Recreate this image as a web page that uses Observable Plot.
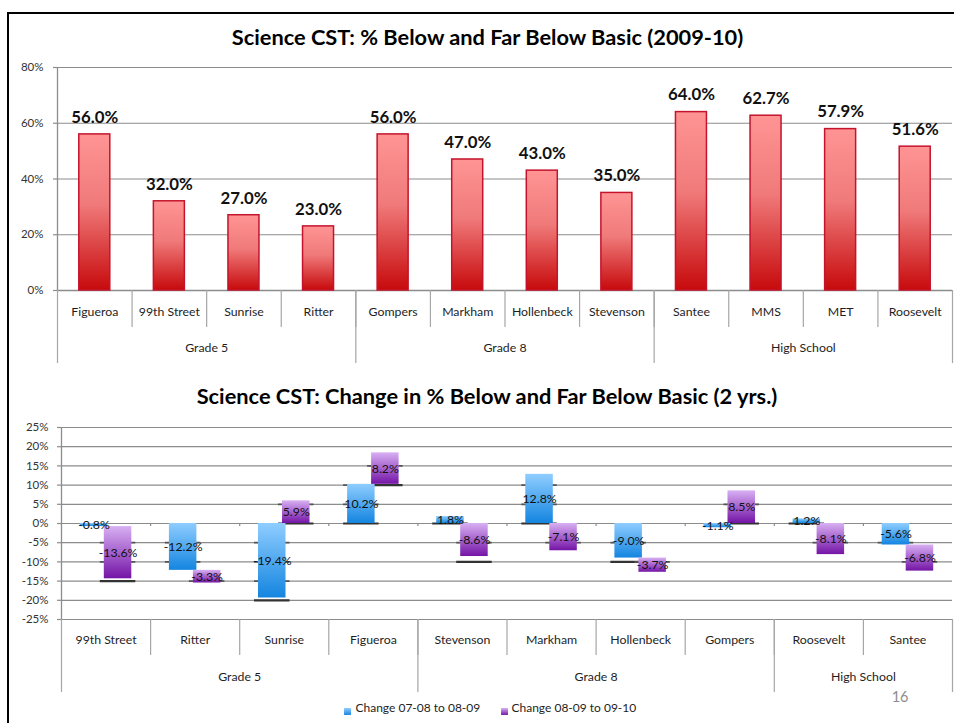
<!DOCTYPE html>
<html><head><meta charset="utf-8">
<script src="https://cdn.jsdelivr.net/npm/d3@7"></script>
<script src="https://cdn.jsdelivr.net/npm/@observablehq/plot@0.6"></script>
<style>
body{margin:0;background:#fff;font-family:Lato,sans-serif}
#root{position:relative;width:954px;height:723px;overflow:hidden;background:#fff}
.chart{position:absolute;left:0}
#frame{position:absolute;left:7px;top:12px;width:990px;height:760px;border-left:2px solid #000;border-top:2px solid #000;pointer-events:none}
</style></head>
<body><div id="root"><div id="c1" class="chart" style="top:0"></div><div id="c2" class="chart" style="top:372px"></div><div id="frame"></div></div>
<script>
// ---------- data: top chart ----------
const topTitle = "Science CST: % Below and Far Below Basic (2009-10)";
const topSchools = ["Figueroa","99th Street","Sunrise","Ritter","Gompers","Markham","Hollenbeck","Stevenson","Santee","MMS","MET","Roosevelt"];
const topValues = [56.0, 32.0, 27.0, 23.0, 56.0, 47.0, 43.0, 35.0, 64.0, 62.7, 57.9, 51.6];
const topGroupNames = ["Grade 5","Grade 8","High School"];
const topGroupSizes = [4, 4, 4];
const topTicks = [0, 20, 40, 60, 80];

// ---------- data: bottom chart ----------
const chgTitle = "Science CST: Change in % Below and Far Below Basic (2 yrs.)";
const chgSchools = ["99th Street","Ritter","Sunrise","Figueroa","Stevenson","Markham","Hollenbeck","Gompers","Roosevelt","Santee"];
const chg1 = [-0.8, -12.2, -19.4, 10.2, 1.8, 12.8, -9.0, -1.1, 1.2, -5.6];
const chg2 = [-13.6, -3.3, 5.9, 8.2, -8.6, -7.1, -3.7, 8.5, -8.1, -6.8];
const chgGroupNames = ["Grade 5","Grade 8","High School"];
const chgGroupSizes = [4, 4, 2];
const chgTicks = [-25,-20,-15,-10,-5,0,5,10,15,20,25];
const seriesNames = ["Change 07-08 to 08-09","Change 08-09 to 09-10"];
const pageNumber = "16";

function groupsOf(names, sizes){
  let s = 0;
  return names.map((name,k)=>{ const g={name,start:s,end:s+sizes[k]}; s+=sizes[k]; return g; });
}
function addGrad(svg, id, stops){
  const sel = d3.select(svg);
  let defs = sel.select("defs");
  if (defs.empty()) defs = sel.insert("defs", ":first-child");
  const g = defs.append("linearGradient").attr("id", id).attr("x1",0).attr("y1",0).attr("x2",0).attr("y2",1);
  stops.forEach(([o,c])=>g.append("stop").attr("offset",o).attr("stop-color",c));
}
const FONT = "Lato";
const GRID = "#8c8c8c";
const SEP = "#a6a6a6";
const TXT = "#1e1e1e";

// ================= TOP CHART =================
{
  const W = 954, H = 372, mL = 57, mR = 2, mT = 67, mB = 82;
  const n = topSchools.length;
  const ux = (W - mL - mR) / n;
  const uy = (H - mT - mB) / 80;
  const px2x = p => p / ux, px2y = p => p / uy;
  const data = topSchools.map((name,i)=>({name, i, v: topValues[i]}));
  const groups = groupsOf(topGroupNames, topGroupSizes);
  const hw = px2x(15.5);
  const bounds = d3.range(1, n);
  const gBounds = [0, ...groups.map(g=>g.end)];
  const svg = Plot.plot({
    width: W, height: H, marginLeft: mL, marginRight: mR, marginTop: mT, marginBottom: mB,
    x: {domain: [0, n], axis: null},
    y: {domain: [0, 80], axis: null},
    style: {fontFamily: FONT, fontSize: "12px", color: TXT, background: "transparent", overflow: "visible"},
    marks: [
      Plot.ruleY(topTicks.filter(d=>d>0), {stroke: GRID, strokeWidth: 1.2}),
      Plot.ruleY([0], {stroke: GRID, strokeWidth: 1.3}),
      Plot.ruleY(topTicks, {x1: -px2x(4), x2: 0, stroke: GRID, strokeWidth: 1.2}),
      Plot.ruleX([0], {y1: 80, y2: 0, stroke: GRID, strokeWidth: 1.3}),
      Plot.ruleX(bounds, {y1: 0, y2: -px2y(37), stroke: SEP, strokeWidth: 1.2}),
      Plot.ruleX(gBounds, {y1: 0, y2: -px2y(73), stroke: SEP, strokeWidth: 1.2}),
      Plot.text(topTicks, {x: 0, y: d=>d, dx: -14, textAnchor: "end", text: d=>d+"%", fontSize: 11.5, fill: "#333"}),
      Plot.rect(data, {x1: d=>d.i+0.5-hw, x2: d=>d.i+0.5+hw, y1: 0, y2: d=>d.v, fill: "url(#gRed)", stroke: "#c4142c", strokeWidth: 1.5}),
      Plot.text(data, {x: d=>d.i+0.5, y: d=>d.v, dy: -17, text: d=>d.v.toFixed(1)+"%", fontSize: 16.8, fontWeight: "bold", fill: "#111"}),
      Plot.text(data, {x: d=>d.i+0.5, y: 0, dy: 21.5, text: "name", fontSize: 12.3, fill: TXT}),
      Plot.text(groups, {x: d=>(d.start+d.end)/2, y: 0, dy: 57.5, text: "name", fontSize: 12.3, fill: TXT}),
      Plot.text([topTitle], {frameAnchor: "top", lineAnchor: "bottom", dx: -17.5, dy: -22.7, text: d=>d, fontSize: 21.8, fontWeight: "bold", fill: "#000"})
    ]
  });
  addGrad(svg, "gRed", [[0,"#ff9494"],[0.45,"#f07a7a"],[1,"#c70a0c"]]);
  document.getElementById("c1").appendChild(svg);
}

// ================= BOTTOM CHART =================
{
  const W = 954, H = 351, mL = 61, mR = 2, mT = 55, mB = 104;
  const n = chgSchools.length;
  const ux = (W - mL - mR) / n;
  const uy = (H - mT - mB) / 50;
  const px2x = p => p / ux, px2y = p => p / uy;
  const rows = chgSchools.map((name,i)=>{
    const a = chg1[i], b = chg2[i];
    const base = Math.sign(a) === Math.sign(b) ? a : 0;   // Excel stacking of same-sign values
    return {name, i, a, b, base};
  });
  const off = px2x(12), hw = px2x(13.75);
  const blue = rows.map(r=>({x1: r.i+0.5-off-hw, x2: r.i+0.5-off+hw, y1: 0, y2: r.a, lab: r.a, xc: r.i+0.5-off}));
  const purple = rows.map(r=>({x1: r.i+0.5+off-hw, x2: r.i+0.5+off+hw, y1: r.base, y2: r.base+r.b, lab: r.b, xc: r.i+0.5+off}));
  const dashes = [];
  for (const bar of [...blue, ...purple]) {
    const lo = Math.min(bar.y1, bar.y2), hi = Math.max(bar.y1, bar.y2);
    for (const g of chgTicks) {
      const inner = g > lo + 0.05 && g < hi - 0.05;
      const under = g >= lo - 1.6 && g <= lo + 0.05;
      if (inner || under) dashes.push({x1: bar.x1 - px2x(4), x2: bar.x2 + px2x(4), y: g, under});
    }
  }
  const groups = groupsOf(chgGroupNames, chgGroupSizes);
  const bounds = d3.range(1, n);
  const gBounds = [0, ...groups.map(g=>g.end)];
  const fmt = v => v.toFixed(1)+"%";
  const svg = Plot.plot({
    width: W, height: H, marginLeft: mL, marginRight: mR, marginTop: mT, marginBottom: mB,
    x: {domain: [0, n], axis: null},
    y: {domain: [-25, 25], axis: null},
    style: {fontFamily: FONT, fontSize: "12px", color: TXT, background: "transparent", overflow: "visible"},
    marks: [
      Plot.ruleY(chgTicks, {stroke: GRID, strokeWidth: 1.2}),
      Plot.ruleY(chgTicks, {x1: -px2x(4), x2: 0, stroke: GRID, strokeWidth: 1.2}),
      Plot.ruleX([0], {y1: 25, y2: -25, stroke: GRID, strokeWidth: 1.3}),
      Plot.ruleX(bounds, {y1: 0, y2: -px2y(3), stroke: GRID, strokeWidth: 1.2}),
      Plot.ruleX(bounds, {y1: -25, y2: -25-px2y(36), stroke: SEP, strokeWidth: 1.2}),
      Plot.ruleX(gBounds, {y1: -25, y2: -25-px2y(73), stroke: SEP, strokeWidth: 1.2}),
      Plot.text(chgTicks, {x: 0, y: d=>d, dx: -13, textAnchor: "end", text: d=>d+"%", fontSize: 11.5, fill: "#333"}),
      Plot.ruleY(dashes, {y: "y", x1: "x1", x2: "x2", stroke: d=>d.under ? "#333" : "#555", strokeWidth: d=>d.under ? 2.2 : 1.8}),
      Plot.rect(blue, {x1: "x1", x2: "x2", y1: "y1", y2: "y2", fill: "url(#gBlue)"}),
      Plot.rect(purple, {x1: "x1", x2: "x2", y1: "y1", y2: "y2", fill: "url(#gPurple)"}),
      Plot.text(blue, {x: "xc", y: d=>(d.y1+d.y2)/2, text: d=>fmt(d.lab), fontSize: 12.3, fill: "#111"}),
      Plot.text(purple, {x: "xc", y: d=>(d.y1+d.y2)/2, text: d=>fmt(d.lab), fontSize: 12.3, fill: "#111"}),
      Plot.text(rows, {x: d=>d.i+0.5, y: -25, dy: 21, text: "name", fontSize: 12.3, fill: TXT}),
      Plot.text(groups, {x: d=>(d.start+d.end)/2, y: -25, dy: 57.7, text: "name", fontSize: 12.3, fill: TXT}),
      Plot.text([chgTitle], {frameAnchor: "top", lineAnchor: "bottom", dx: -20, dy: -23.7, text: d=>d, fontSize: 21.8, fontWeight: "bold", fill: "#000"}),
      Plot.text([pageNumber], {frameAnchor: "bottom-right", dx: -44, dy: 82, text: d=>d, fontSize: 14.5, fill: "#8c8c8c"}),
      Plot.dot([0], {frameAnchor: "bottom-left", dx: 286, dy: 92, symbol: "square", r: 3.9, fill: "url(#gBlue)", stroke: "none"}),
      Plot.dot([0], {frameAnchor: "bottom-left", dx: 443, dy: 92, symbol: "square", r: 3.9, fill: "url(#gPurple)", stroke: "none"}),
      Plot.text([seriesNames[0]], {frameAnchor: "bottom-left", dx: 294, dy: 92, textAnchor: "start", text: d=>d, fontSize: 12, fill: TXT}),
      Plot.text([seriesNames[1]], {frameAnchor: "bottom-left", dx: 450, dy: 92, textAnchor: "start", text: d=>d, fontSize: 12, fill: TXT})
    ]
  });
  addGrad(svg, "gBlue", [[0,"#8fcdff"],[1,"#1485e0"]]);
  addGrad(svg, "gPurple", [[0,"#d8b0f3"],[1,"#7414a6"]]);
  document.getElementById("c2").appendChild(svg);
}
</script></body></html>
